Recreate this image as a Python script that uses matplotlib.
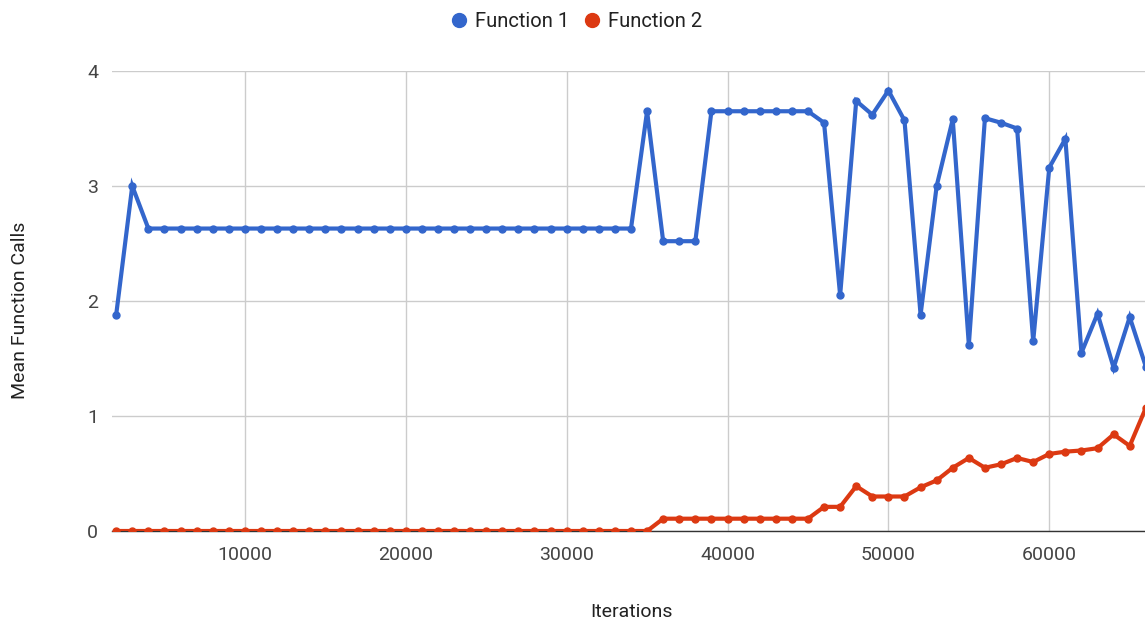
import matplotlib
matplotlib.use("Agg")
import matplotlib.pyplot as plt

plt.rcParams['font.family'] = ['Roboto', 'DejaVu Sans']

iterations = [
    2000, 3000, 4000, 5000, 6000, 7000, 8000, 9000, 10000, 11000,
    12000, 13000, 14000, 15000, 16000, 17000, 18000, 19000, 20000, 21000,
    22000, 23000, 24000, 25000, 26000, 27000, 28000, 29000, 30000, 31000,
    32000, 33000, 34000, 35000, 36000, 37000, 38000, 39000, 40000, 41000,
    42000, 43000, 44000, 45000, 46000, 47000, 48000, 49000, 50000, 51000,
    52000, 53000, 54000, 55000, 56000, 57000, 58000, 59000, 60000, 61000,
    62000, 63000, 64000, 65000, 66000,
]

function1 = [
    1.88, 3.00, 2.63, 2.63, 2.63, 2.63, 2.63, 2.63, 2.63, 2.63,
    2.63, 2.63, 2.63, 2.63, 2.63, 2.63, 2.63, 2.63, 2.63, 2.63,
    2.63, 2.63, 2.63, 2.63, 2.63, 2.63, 2.63, 2.63, 2.63, 2.63,
    2.63, 2.63, 2.63, 3.65, 2.52, 2.52, 2.52, 3.65, 3.65, 3.65,
    3.65, 3.65, 3.65, 3.65, 3.55, 2.05, 3.74, 3.62, 3.83, 3.57,
    1.88, 3.00, 3.58, 1.62, 3.59, 3.55, 3.50, 1.65, 3.16, 3.41,
    1.55, 1.89, 1.42, 1.86, 1.43,
]

function2 = [
    0, 0, 0, 0, 0, 0, 0, 0, 0, 0,
    0, 0, 0, 0, 0, 0, 0, 0, 0, 0,
    0, 0, 0, 0, 0, 0, 0, 0, 0, 0,
    0, 0, 0, 0, 0.107, 0.107, 0.107, 0.107, 0.107, 0.107,
    0.107, 0.107, 0.107, 0.107, 0.21, 0.21, 0.39, 0.30, 0.30, 0.30,
    0.38, 0.44, 0.55, 0.635, 0.55, 0.58, 0.635, 0.60, 0.67, 0.69,
    0.70, 0.72, 0.84, 0.74, 1.07,
]

fig = plt.figure(figsize=(11.45, 6.22), dpi=100)
ax = fig.add_axes([112 / 1145, 91 / 622, 1 - 112 / 1145, 460 / 622])

ax.plot(iterations, function1, color='#3366cc', linewidth=3, marker='o',
        markersize=5, solid_joinstyle='miter', label='Function 1', zorder=3)
ax.plot(iterations, function2, color='#dc3912', linewidth=3, marker='o',
        markersize=5, solid_joinstyle='miter', label='Function 2', zorder=3)

ax.set_xlim(1740, 65950)
ax.set_ylim(0, 4)
ax.set_xticks([10000, 20000, 30000, 40000, 50000, 60000])
ax.set_yticks([0, 1, 2, 3, 4])
ax.grid(True, color='#cccccc', linewidth=1)
ax.set_axisbelow(True)
for side in ['left', 'right', 'top']:
    ax.spines[side].set_visible(False)
ax.spines['bottom'].set_color('#333333')
ax.spines['bottom'].set_linewidth(1)
ax.tick_params(length=0, labelsize=14, labelcolor='#444444')
ax.tick_params(axis='x', pad=11)
ax.tick_params(axis='y', pad=10)

fig.text(631 / 1145, 1 - 612 / 622, 'Iterations', ha='center', va='center',
         fontsize=14, color='#222222')
fig.text(20 / 1145, 1 - 310 / 622, 'Mean Function Calls', rotation=90,
         ha='center', va='center', fontsize=14, color='#222222')

leg = fig.legend(loc='upper center', bbox_to_anchor=(0.504, 1.01), ncol=2,
                 frameon=False, fontsize=14.5, handlelength=0.7,
                 handletextpad=0.45, columnspacing=0.8, labelcolor='#222222')
for line in leg.get_lines():
    line.set_linestyle('none')
    line.set_markersize(10)

fig.savefig('out.png', dpi=100)
